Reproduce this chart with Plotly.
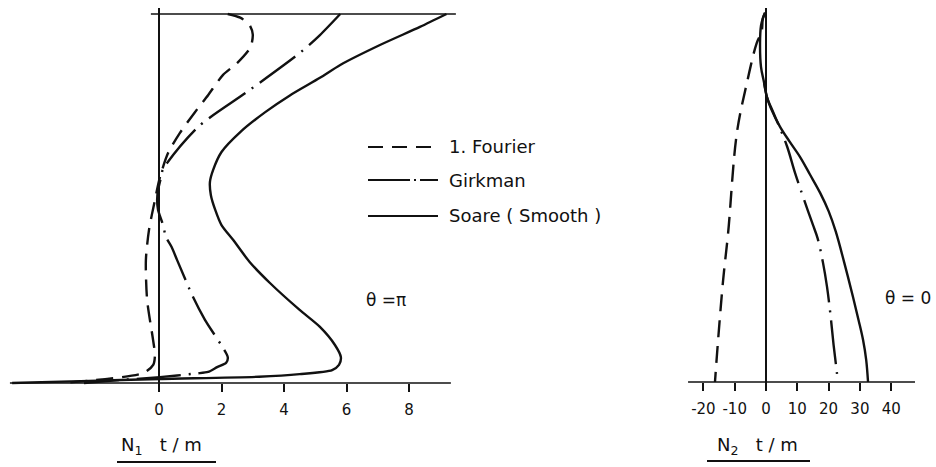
import plotly.graph_objects as go

# ---------------- data ----------------
# Meridional force N1 (t/m) versus relative height, theta = pi
n1_fourier_x = [2.2, 2.6, 2.9, 3.0, 2.93, 2.5, 2.05, 1.57, 1.15, 0.67, 0.29, 0.03, -0.13, -0.32, -0.42, -0.38, -0.19, -0.13, -0.18, -0.5, -3.1]
n1_fourier_h = [1.0, 0.99, 0.97, 0.945, 0.91, 0.867, 0.835, 0.78, 0.734, 0.678, 0.623, 0.558, 0.496, 0.415, 0.333, 0.225, 0.117, 0.076, 0.05, 0.027, 0.0]

n1_girkman_x = [5.8, 5.15, 4.5, 2.82, 1.25, 0.13, 0.06, -0.03, -0.06, -0.03, 0.13, 0.22, 0.4, 0.58, 1.09, 1.47, 2.2, 2.15, 1.86, 1.57, 1.2, 0.03, -1.25, -2.4]
n1_girkman_h = [1.0, 0.943, 0.894, 0.789, 0.694, 0.58, 0.556, 0.523, 0.496, 0.469, 0.428, 0.396, 0.369, 0.333, 0.233, 0.171, 0.07, 0.055, 0.043, 0.03, 0.026, 0.016, 0.008, 0.0]

n1_soare_x = [9.2, 8.35, 7.07, 5.8, 5.15, 4.2, 3.4, 2.6, 2.0, 1.73, 1.63, 1.66, 1.8, 2.0, 2.37, 2.9, 3.55, 4.5, 5.15, 5.63, 5.82, 5.76, 5.54, 4.5, 3.2, 0.03, -2.5, -4.7]
n1_soare_h = [1.0, 0.965, 0.916, 0.862, 0.827, 0.78, 0.734, 0.68, 0.626, 0.577, 0.545, 0.509, 0.469, 0.428, 0.388, 0.328, 0.271, 0.198, 0.152, 0.103, 0.07, 0.049, 0.035, 0.024, 0.017, 0.011, 0.005, 0.0]

# Hoop force N2 (t/m) versus relative height, theta = 0
n2_fourier_x = [-0.3, -1.0, -1.4, -3.0, -6.1, -9.3, -12.1, -13.7, -15.3, -16.3]
n2_fourier_h = [0.99, 0.975, 0.939, 0.908, 0.802, 0.668, 0.4, 0.273, 0.113, 0.0]

n2_girkman_x = [-0.6, 0.3, 2.2, 4.5, 6.8, 9.3, 11.5, 13.4, 15.0, 16.5, 18.2, 19.5, 20.6, 21.6, 22.3, 23.0]
n2_girkman_h = [0.802, 0.764, 0.725, 0.68, 0.63, 0.56, 0.505, 0.459, 0.421, 0.385, 0.32, 0.255, 0.18, 0.099, 0.05, 0.0]

n2_soare_x = [-0.3, -1.0, -1.6, -1.9, -1.6, -0.6, 0.3, 1.5, 4.5, 7.5, 10.9, 14.0, 17.3, 20.0, 22.3, 25.0, 27.8, 29.6, 31.0, 32.0, 32.6]
n2_soare_h = [0.99, 0.975, 0.955, 0.909, 0.845, 0.802, 0.764, 0.735, 0.684, 0.645, 0.603, 0.557, 0.507, 0.458, 0.403, 0.32, 0.228, 0.165, 0.113, 0.06, 0.0]

n1_tickvals = [0, 2, 4, 6, 8]
n1_ticktext = ["0", "2", "4", "6", "8"]
n2_tickvals = [-20, -10, 0, 10, 20, 30, 40]
n2_ticktext = ["-20", "-10", "0", "10", "20", "30", "40"]

series_names = ["1. Fourier", "Girkman", "Soare ( Smooth )"]

# ---------------- geometry ----------------
W, H = 936, 467
FONT = "DejaVu Sans"
INK = "#111111"

DASH_FOURIER = "17px,9px"
DASH_GIRKMAN = "44px,8px,2px,8px"
CURVE_W = 2.4


def ydomain(zero_px, px_per_unit, top_px, bottom_px):
    lo = -(bottom_px - zero_px) / px_per_unit
    hi = (zero_px - top_px) / px_per_unit
    return [(H - bottom_px) / H, (H - top_px) / H], [lo, hi]


def xrange_(zero_px, px_per_unit, left_px, right_px):
    return [(left_px - zero_px) / px_per_unit, (right_px - zero_px) / px_per_unit]


# left panel: zero at x=159px (31.25 px per unit), baseline 383px, top 14px
L_dom_y, L_rng_y = ydomain(383, 369, 8, 392)
L_rng_x = xrange_(159, 31.25, 0, 468)
# right panel: zero at x=766px (3.13 px per unit), baseline 382px, top 9px
R_dom_y, R_rng_y = ydomain(382, 373, 8, 390)
R_rng_x = xrange_(766, 3.13, 468, 936)

fig = go.Figure()


def curve(x, h, dash, xa, ya, smoothing):
    fig.add_trace(go.Scatter(
        x=x, y=h, mode="lines", xaxis=xa, yaxis=ya,
        line=dict(color=INK, width=CURVE_W, dash=dash, shape="spline",
                  smoothing=smoothing),
        showlegend=False, hoverinfo="skip"))


curve(n1_fourier_x, n1_fourier_h, DASH_FOURIER, "x", "y", 0.7)
curve(n1_girkman_x, n1_girkman_h, DASH_GIRKMAN, "x", "y", 0.7)
curve(n1_soare_x, n1_soare_h, "solid", "x", "y", 0.7)
curve(n2_fourier_x, n2_fourier_h, DASH_FOURIER, "x2", "y2", 1.0)
curve(n2_girkman_x, n2_girkman_h, DASH_GIRKMAN, "x2", "y2", 1.0)
curve(n2_soare_x, n2_soare_h, "solid", "x2", "y2", 1.0)

tickfont = dict(family=FONT, size=15, color=INK)
common_x = dict(showgrid=False, showline=False, zeroline=True, zerolinecolor=INK,
                zerolinewidth=1.6, ticks="outside", ticklen=8, tickwidth=1.6,
                tickcolor=INK, tickfont=tickfont, anchor="free",
                ticklabelstandoff=5, fixedrange=True)
common_y = dict(visible=False, showgrid=False, zeroline=False, fixedrange=True)

fig.update_layout(
    width=W, height=H,
    margin=dict(l=0, r=0, t=0, b=0),
    paper_bgcolor="white", plot_bgcolor="rgba(0,0,0,0)",
    xaxis=dict(domain=[0, 0.5], range=L_rng_x, tickvals=n1_tickvals,
               ticktext=n1_ticktext, position=(H - 383) / H, **common_x),
    yaxis=dict(domain=L_dom_y, range=L_rng_y, **common_y),
    xaxis2=dict(domain=[0.5, 1.0], range=R_rng_x, tickvals=n2_tickvals,
                ticktext=n2_ticktext, position=(H - 382) / H, **common_x),
    yaxis2=dict(domain=R_dom_y, range=R_rng_y, anchor="x2", **common_y),
)
fig.layout.yaxis.anchor = "x"

# axis base lines and the top edge of the left panel
shapes = [
    dict(type="line", xref="x", yref="y", x0=-4.77, x1=9.34, y0=0, y1=0,
         line=dict(color=INK, width=1.6)),
    dict(type="line", xref="x", yref="y", x0=-0.26, x1=9.5, y0=1, y1=1,
         line=dict(color=INK, width=1.6)),
    dict(type="line", xref="x2", yref="y2", x0=-24.9, x1=47.6, y0=0, y1=0,
         line=dict(color=INK, width=1.6)),
]


def px(xp, yp):
    return xp / W, 1 - yp / H


# legend samples
for (y_px, dash) in [(147, "15px,9px"), (180, "42px,4px,2px,4px"), (216, "solid")]:
    x0, y0 = px(368, y_px)
    x1, _ = px(438, y_px)
    shapes.append(dict(type="line", xref="paper", yref="paper", x0=x0, x1=x1,
                       y0=y0, y1=y0, line=dict(color=INK, width=2, dash=dash)))

# underlines of the axis titles
for (a, b, y_px) in [(117, 216, 462), (707, 810, 461)]:
    x0, y0 = px(a, y_px)
    x1, _ = px(b, y_px)
    shapes.append(dict(type="line", xref="paper", yref="paper", x0=x0, x1=x1,
                       y0=y0, y1=y0, line=dict(color=INK, width=2)))
fig.update_layout(shapes=shapes)

annotations = []
for name, y_px in zip(series_names, [147, 180, 216]):
    x0, y0 = px(447, y_px)
    annotations.append(dict(text=name, x=x0, y=y0, xref="paper", yref="paper",
                            xanchor="left", yanchor="middle", showarrow=False,
                            font=dict(family=FONT, size=18, color=INK)))

for text, xp_, yp_, size in [("θ =π", 386, 300, 17), ("θ = 0", 908, 298, 17),
                             ("N<sub>1</sub>\u00a0\u00a0 t / m", 161, 446, 18),
                             ("N<sub>2</sub>\u00a0\u00a0 t / m", 757, 446, 18)]:
    x0, y0 = px(xp_, yp_)
    annotations.append(dict(text=text, x=x0, y=y0, xref="paper", yref="paper",
                            xanchor="center", yanchor="middle", showarrow=False,
                            font=dict(family=FONT, size=size, color=INK)))
fig.update_layout(annotations=annotations)

fig.write_html("out.html")
